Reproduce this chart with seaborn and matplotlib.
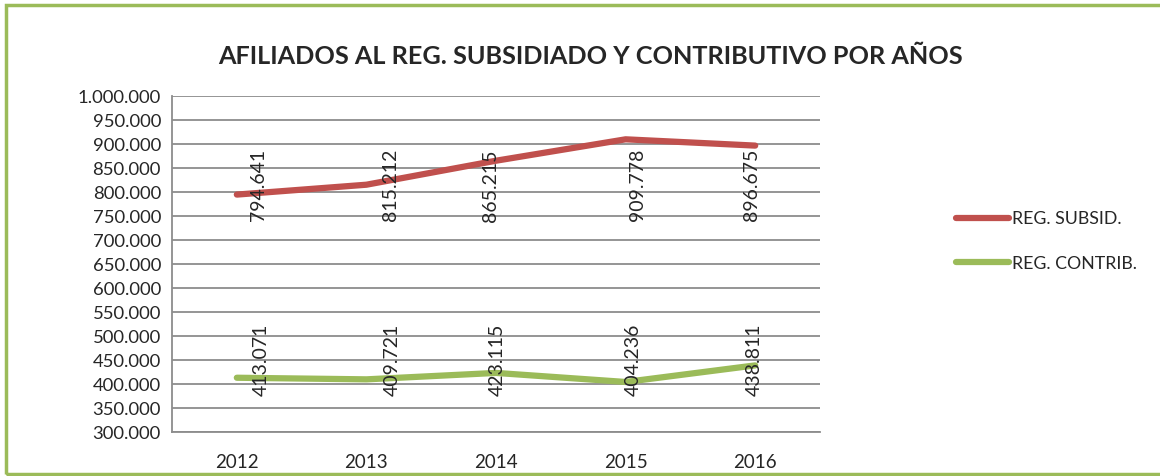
import matplotlib
matplotlib.use("Agg")
import matplotlib.pyplot as plt
import matplotlib.ticker as mticker
import pandas as pd
import seaborn as sns
from matplotlib.patches import Rectangle

# Data
years = ["2012", "2013", "2014", "2015", "2016"]
subsidiado = [794641, 815212, 865215, 909778, 896675]
contributivo = [413071, 409721, 423115, 404236, 438811]
series_names = ["REG. SUBSID.", "REG. CONTRIB."]

df = pd.DataFrame({
    "Year": years * 2,
    "Afiliados": subsidiado + contributivo,
    "Regimen": [series_names[0]] * 5 + [series_names[1]] * 5,
})

sns.set_style("white")
plt.rcParams["font.family"] = ["Lato", "DejaVu Sans"]

colors = {"REG. SUBSID.": "#C0504D", "REG. CONTRIB.": "#9BBB59"}

fig = plt.figure(figsize=(11.6, 4.76), dpi=100)
ax = fig.add_axes([0.1483, 0.0924, 0.5586, 0.7059])

sns.lineplot(data=df, x="Year", y="Afiliados", hue="Regimen", palette=colors,
             linewidth=4.5, ax=ax, legend=False, sort=False)

ax.set_ylim(300000, 1000000)
ax.set_xlim(-0.5, 4.5)
ax.yaxis.set_major_locator(mticker.MultipleLocator(50000))
ax.yaxis.set_major_formatter(mticker.FuncFormatter(lambda v, p: f"{int(v):,}".replace(",", ".")))
ax.set_xticks(range(5))
ax.set_xticklabels(years)
ax.set_xticks([i - 0.5 for i in range(6)], minor=True)
ax.tick_params(axis="x", which="major", length=0, labelsize=13.5, pad=16)
ax.tick_params(axis="x", which="minor", length=7, width=1.2, color="#888888", direction="out")
ax.tick_params(axis="y", length=5, width=1.2, color="#888888", labelsize=13.3, direction="out", pad=3)
ax.set_xlabel("")
ax.set_ylabel("")
ax.grid(axis="y", color="#8c8c8c", linewidth=1.3)
ax.set_axisbelow(True)
for s in ["top", "right"]:
    ax.spines[s].set_visible(False)
for s in ["left", "bottom"]:
    ax.spines[s].set_color("#8c8c8c")
    ax.spines[s].set_linewidth(1.3)

# Data labels (rotated, beside each point, as placed in the original)
label_center = {"REG. SUBSID.": 814000, "REG. CONTRIB.": 450000}
label_dx = {"REG. SUBSID.": [22, 24, -6, 12, -4], "REG. CONTRIB.": [24, 26, 1, 8, -1]}
for name, vals in zip(series_names, [subsidiado, contributivo]):
    for i, v in enumerate(vals):
        ax.annotate(f"{v:,}".replace(",", "."), xy=(i, label_center[name]),
                    xytext=(label_dx[name][i], 0), textcoords="offset pixels",
                    rotation=90, ha="center", va="center", fontsize=14)

fig.text(0.509, 0.882, "AFILIADOS AL REG. SUBSIDIADO Y CONTRIBUTIVO POR AÑOS",
         ha="center", va="center", fontsize=18.2, fontweight="bold")

# Legend
handles = [plt.Line2D([], [], color=colors[n], linewidth=4.5, solid_capstyle="round") for n in series_names]
fig.legend(handles, series_names, loc="center left", bbox_to_anchor=(0.81, 0.493),
           frameon=False, fontsize=12.8, handlelength=3.0, handletextpad=0.15,
           labelspacing=1.6)

# Chart-area border
fig.patches.append(Rectangle((0.0055, 0.004), 1.1, 0.985, transform=fig.transFigure,
                             fill=False, edgecolor="#9BBB59", linewidth=2.5))

fig.savefig("out.png", dpi=100)
